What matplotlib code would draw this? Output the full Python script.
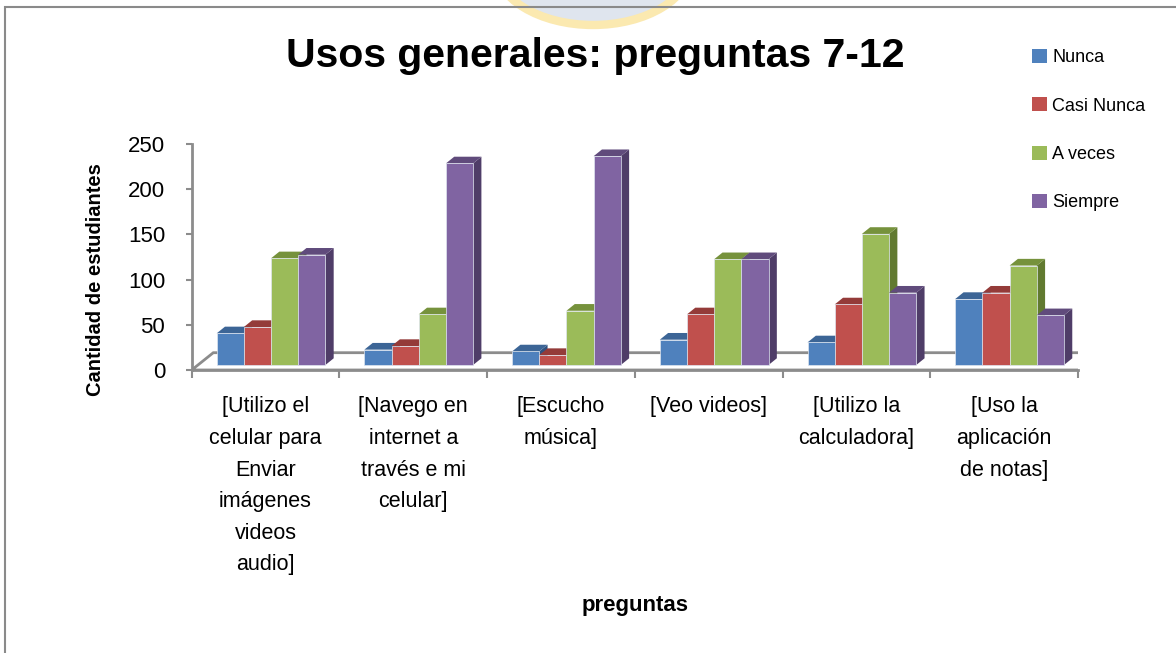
import numpy as np
import matplotlib.pyplot as plt
from matplotlib.patches import Polygon, Rectangle, Ellipse, Patch

plt.rcParams['font.family'] = ['Liberation Sans Narrow', 'Liberation Sans', 'DejaVu Sans']

categorias = ["[Utilizo el\ncelular para\nEnviar\nimágenes\nvideos\naudio]",
              "[Navego en\ninternet a\ntravés e mi\ncelular]",
              "[Escucho\nmúsica]",
              "[Veo videos]",
              "[Utilizo la\ncalculadora]",
              "[Uso la\naplicación\nde notas]"]
series = ["Nunca", "Casi Nunca", "A veces", "Siempre"]
nunca = [35, 17, 15, 28, 25, 73]
casi_nunca = [42, 21, 11, 56, 67, 80]
a_veces = [118, 56, 60, 117, 145, 110]
siempre = [122, 223, 231, 117, 80, 55]
valores = [nunca, casi_nunca, a_veces, siempre]

frente = ['#4F81BD', '#C0504D', '#9BBB59', '#8064A2']
arriba = ['#3C6596', '#943B39', '#76923C', '#604B7C']
lado = ['#2F5280', '#7A2E2C', '#617A30', '#4F3D68']

fig = plt.figure(figsize=(11.76, 6.53), dpi=100)

# marco y logo de fondo
fig.patches.append(Ellipse((593 / 1176, 1 + 35 / 653), 196 / 1176, 120 / 653,
                           transform=fig.transFigure, facecolor='#dfe5ee',
                           edgecolor='#fbe9b0', lw=6, zorder=0))
fig.patches.append(Rectangle((5 / 1176, -0.05), 1.1, 1 - 7 / 653 + 0.05,
                             transform=fig.transFigure, fill=False,
                             edgecolor='#8a8a8a', lw=1.5, zorder=1))

ax = fig.add_axes([191.7 / 1176, 1 - 370 / 653, 886.3 / 1176, 226 / 653])
ax.set_xlim(0, 6)
ax.set_ylim(0, 250)
ax.patch.set_alpha(0)

# conversion px -> unidades de datos
ux = 1 / 147.7
uy = 250 / 226.0

# piso
piso = Polygon([(0, 0), (6.03, 0), (6.03 + 22 * ux, 17.3 * uy), (21.6 * ux, 17.3 * uy)],
               closed=True, facecolor='white', edgecolor='#8c8c8c', lw=2, zorder=1)
ax.add_patch(piso)

w = 0.184
s = 0.037
base = 5 * uy
dx = 8.3 * ux
dy = 6.7 * uy

for i in range(len(categorias)):
    for j in range(4):
        v = valores[j][i]
        x0 = i + 0.5 - 2 * w + s + j * w
        top = base + v
        z = 3 + j
        ax.add_patch(Polygon([(x0 + w, base), (x0 + w + dx, base + dy),
                              (x0 + w + dx, top + dy), (x0 + w, top)],
                             closed=True, facecolor=lado[j], edgecolor='none', zorder=z))
        ax.add_patch(Polygon([(x0, top), (x0 + w, top), (x0 + w + dx, top + dy),
                              (x0 + dx, top + dy)],
                             closed=True, facecolor=arriba[j], edgecolor='none', zorder=z))
        ax.bar(x0, v, width=w, bottom=base, align='edge', color=frente[j],
               edgecolor='#dfe6f0', lw=0.5, zorder=z + 0.5, clip_on=False)

for sp in ['top', 'right']:
    ax.spines[sp].set_visible(False)
for sp in ['left', 'bottom']:
    ax.spines[sp].set_color('#8c8c8c')
    ax.spines[sp].set_linewidth(2)
    ax.spines[sp].set_zorder(2)

ax.set_yticks([0, 50, 100, 150, 200, 250])
ax.set_xticks(np.arange(0, 7), minor=False)
ax.set_xticklabels([])
ax.set_xticks(np.arange(6) + 0.5, minor=True)
ax.set_xticklabels(categorias, minor=True, fontsize=15.5, linespacing=1.66, va='top')
ax.tick_params(axis='x', which='major', length=6, width=1.5, color='#8c8c8c', direction='out')
ax.tick_params(axis='x', which='minor', length=0, pad=19)
ax.tick_params(axis='y', length=4, width=1.5, color='#8c8c8c', labelsize=16, pad=15)

ax.set_ylabel('Cantidad de estudiantes', fontsize=14.5, fontweight='bold')
ax.yaxis.set_label_coords(-0.098, 0.40)
ax.set_xlabel('preguntas', fontsize=16, fontweight='bold', labelpad=14)

fig.text(595 / 1176, 1 - 56 / 653, 'Usos generales: preguntas 7-12', fontsize=29.5,
         fontweight='bold', ha='center', va='center')

handles = [Patch(facecolor=frente[j], edgecolor='none') for j in range(4)]
fig.legend(handles, series, loc='upper left', bbox_to_anchor=(1016 / 1176, 1 - 33 / 653),
           frameon=False, fontsize=13, labelspacing=1.72, handlelength=0.8,
           handleheight=0.8, handletextpad=0.3)

fig.savefig('out.png', dpi=100)
